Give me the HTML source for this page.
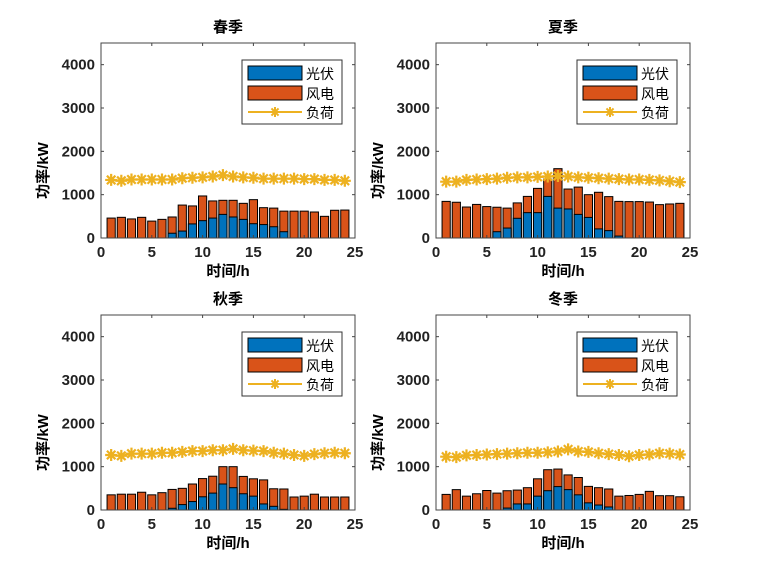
<!DOCTYPE html>
<html><head><meta charset="utf-8"><style>
body{margin:0;background:#fff;}
svg{display:block;font-family:"Liberation Sans","Noto Sans CJK SC",sans-serif;}
</style></head><body>
<svg id="chart" width="766" height="575"></svg>
<script>
const hours = [1,2,3,4,5,6,7,8,9,10,11,12,13,14,15,16,17,18,19,20,21,22,23,24];
const titles = ["春季","夏季","秋季","冬季"];
const xTicks = [0,5,10,15,20,25];
const yTicks = [0,1000,2000,3000,4000];
const springTotal = [460,477,440,477,390,430,485,760,740,970,855,870,870,800,885,700,690,620,620,620,600,500,640,645];
const springPV = [0,0,0,0,0,0,110,160,325,400,460,545,485,430,330,310,260,145,0,0,0,0,0,0];
const springLoad = [1340,1320,1350,1350,1350,1350,1350,1380,1390,1400,1420,1450,1420,1400,1390,1370,1370,1370,1370,1360,1360,1340,1340,1320];
const summerTotal = [845,825,715,775,725,710,690,810,960,1145,1360,1600,1130,1175,1000,1055,955,845,840,840,830,770,785,800];
const summerPV = [0,0,0,0,0,145,230,455,585,585,960,690,670,545,475,210,170,45,0,0,0,0,0,0];
const summerLoad = [1300,1300,1340,1350,1360,1370,1390,1400,1400,1410,1420,1430,1420,1400,1390,1380,1370,1360,1350,1350,1340,1330,1310,1290];
const autumnTotal = [350,365,365,410,350,400,475,500,600,725,780,1000,1000,775,720,695,490,485,300,320,365,300,300,300];
const autumnPV = [0,0,0,0,0,0,40,125,195,305,390,600,515,375,320,140,85,15,0,0,0,0,0,0];
const autumnLoad = [1270,1250,1300,1300,1300,1320,1320,1340,1360,1360,1380,1380,1410,1380,1370,1360,1320,1300,1270,1250,1290,1310,1320,1310];
const winterTotal = [360,470,320,375,450,390,445,460,515,720,930,945,810,750,545,515,485,320,335,360,430,330,330,305];
const winterPV = [0,0,0,0,0,0,45,140,140,320,445,540,470,350,165,115,70,0,0,0,0,0,0,0];
const winterLoad = [1230,1220,1260,1270,1280,1290,1300,1310,1320,1320,1330,1350,1400,1350,1340,1310,1290,1270,1240,1270,1280,1310,1300,1280];

const NS="http://www.w3.org/2000/svg";
const svg=document.getElementById('chart');
function mk(tag,attrs,parent){const e=document.createElementNS(NS,tag);for(const k in attrs)e.setAttribute(k,attrs[k]);(parent||svg).appendChild(e);return e;}
function star(cx,cy,r){let d='';for(let k=0;k<4;k++){const a=k*Math.PI/4;const dx=r*Math.cos(a),dy=r*Math.sin(a);d+=`M${cx-dx},${cy-dy}L${cx+dx},${cy+dy}`;}return d;}
const panels=[
 {x0:101,y0:43,title:titles[0],tot:springTotal,pv:springPV,load:springLoad,name:'spring'},
 {x0:436,y0:43,title:titles[1],tot:summerTotal,pv:summerPV,load:summerLoad,name:'summer'},
 {x0:101,y0:315,title:titles[2],tot:autumnTotal,pv:autumnPV,load:autumnLoad,name:'autumn'},
 {x0:436,y0:315,title:titles[3],tot:winterTotal,pv:winterPV,load:winterLoad,name:'winter'}];
const W=254,H=195,YMAX=4500,XMAX=25;
panels.forEach(p=>{
 const g=mk('g',{});
 
 
 const sx=v=>p.x0+v/XMAX*W, sy=v=>p.y0+H-v/YMAX*H;
 const t=mk('text',{x:p.x0+W/2,y:p.y0-11,'text-anchor':'middle','font-size':15,'font-weight':'bold'},g);t.textContent=p.title;
 
 
 const bw=8.2;
 hours.forEach((h,i)=>{
  const b=mk('rect',{x:sx(h)-bw/2,y:sy(p.tot[i]),width:bw,height:sy(0)-sy(p.tot[i]),fill:'#D95319',stroke:'#000','stroke-width':1},g);
  
  
  if(p.pv[i]>0){const c=mk('rect',{x:sx(h)-bw/2,y:sy(p.pv[i]),width:bw,height:sy(0)-sy(p.pv[i]),fill:'#0072BD',stroke:'#000','stroke-width':1},g);
   
   }
 });
 const pts=hours.map((h,i)=>sx(h)+','+sy(p.load[i])).join(' ');
 const pl=mk('polyline',{points:pts,fill:'none',stroke:'#EDB120','stroke-width':2},g);
 
 
 hours.forEach((h,i)=>{
  const m=mk('path',{d:star(sx(h),sy(p.load[i]),6),stroke:'#EDB120','stroke-width':2.2,fill:'none'},g);
  
  
 });
 const bx=mk('rect',{x:p.x0,y:p.y0,width:W,height:H,fill:'none',stroke:'#444','stroke-width':1},g);
 
 
 xTicks.forEach(v=>{
  mk('line',{x1:sx(v),x2:sx(v),y1:p.y0+H,y2:p.y0+H-3,stroke:'#444'},g);
  mk('line',{x1:sx(v),x2:sx(v),y1:p.y0,y2:p.y0+3,stroke:'#444'},g);
  const l=mk('text',{x:sx(v),y:p.y0+H+19,'text-anchor':'middle','font-size':15,'font-weight':'bold',fill:'#222'},g);l.textContent=v;
  
  
 });
 yTicks.forEach(v=>{
  mk('line',{x1:p.x0,x2:p.x0+3,y1:sy(v),y2:sy(v),stroke:'#444'},g);
  mk('line',{x1:p.x0+W,x2:p.x0+W-3,y1:sy(v),y2:sy(v),stroke:'#444'},g);
  const l=mk('text',{x:p.x0-6,y:sy(v)+5,'text-anchor':'end','font-size':15,'font-weight':'bold',fill:'#222'},g);l.textContent=v;
  
  
 });
 const xl=mk('text',{x:p.x0+W/2,y:p.y0+H+38,'text-anchor':'middle','font-size':15,'font-weight':'bold'},g);xl.textContent='时间/h';
 
 
 const yl=mk('text',{x:0,y:0,'text-anchor':'middle','font-size':15,'font-weight':'bold',transform:`translate(${p.x0-53},${p.y0+H/2+30}) rotate(-90)`},g);yl.textContent='功率/kW';
 
 
 const lx=p.x0+141, ly=p.y0+17;
 const lg=mk('g',{},g);
 
 
 mk('rect',{x:lx,y:ly,width:100,height:64,fill:'#fff',stroke:'#333','stroke-width':1},lg);
 mk('rect',{x:lx+6,y:ly+6,width:54,height:14,fill:'#0072BD',stroke:'#000'},lg);
 mk('rect',{x:lx+6,y:ly+26,width:54,height:14,fill:'#D95319',stroke:'#000'},lg);
 mk('line',{x1:lx+6,x2:lx+60,y1:ly+52,y2:ly+52,stroke:'#EDB120','stroke-width':2},lg);
 mk('path',{d:star(lx+33,ly+52,5),stroke:'#EDB120','stroke-width':2,fill:'none'},lg);
 [['光伏',ly+19],['风电',ly+39],['负荷',ly+58]].forEach(([s,y])=>{const e=mk('text',{x:lx+64,y:y,'font-size':14},lg);e.textContent=s;
  
  });
});
</script>
</body></html>
